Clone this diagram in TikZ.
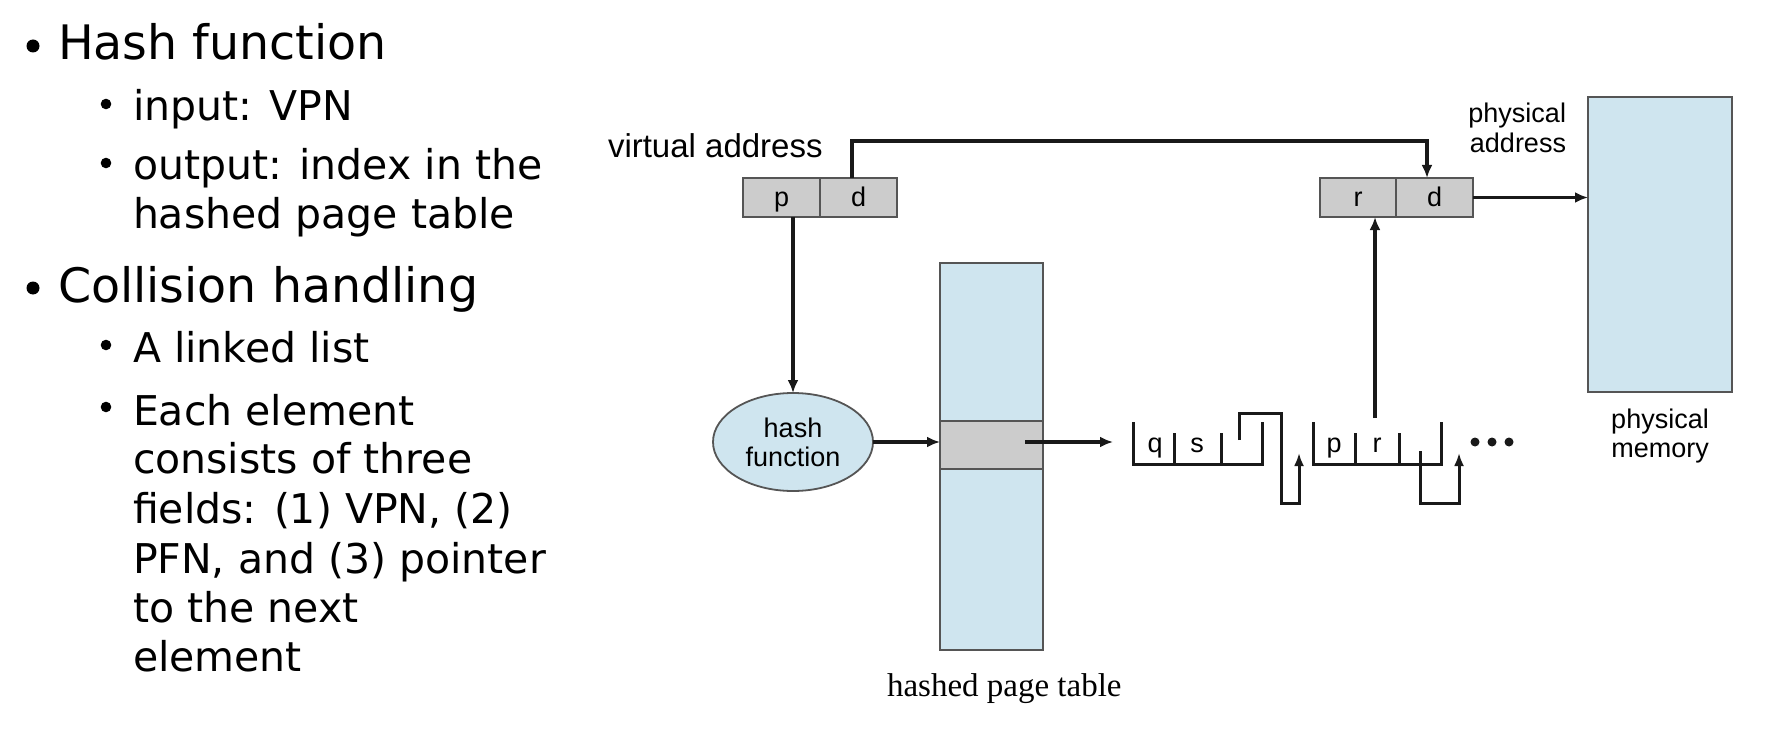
\documentclass[tikz,border=0pt]{standalone}
\usepackage{fontspec}
\setmainfont{Liberation Sans}
\newfontfamily\comicface{DejaVu Sans}
\newfontfamily\serifface{Liberation Serif}
\usetikzlibrary{arrows.meta,shapes.geometric}

\definecolor{lblue}{RGB}{207,229,239}
\definecolor{cellgray}{RGB}{204,204,204}
\definecolor{edgegray}{RGB}{85,85,85}
\definecolor{ink}{RGB}{25,25,25}

\begin{document}
\begin{tikzpicture}[x=1pt,y=-1pt,
  every node/.style={inner sep=0pt, outer sep=0pt},
  big/.style={font=\comicface\fontsize{47.5}{50}\selectfont, anchor=base west},
  sub/.style={font=\comicface\fontsize{41}{49}\selectfont, anchor=base west},
  lab/.style={font=\fontsize{27}{30}\selectfont},
  cell/.style={draw=edgegray, line width=1.8pt, fill=cellgray, minimum height=39pt, minimum width=77pt, text height=19pt, text depth=0pt, font=\fontsize{27}{30}\selectfont},
  mem/.style={draw=edgegray, line width=1.8pt, fill=lblue},
  conn/.style={draw=ink, line width=3.1pt, -{Latex[length=13pt,width=11pt]}},
  lst/.style={draw=ink, line width=3pt},
  lstarrow/.style={draw=ink, line width=3pt, -{Latex[length=13pt,width=10pt]}},
  bul1/.style={fill=black},
]
\useasboundingbox (0,0) rectangle (1766,738);

% ---------- left text ----------
\fill[bul1] (33,46) circle (6.5pt);
\node[big] (t1) at (58,60) {Hash function};
\fill[bul1] (106,104) circle (5.3pt);
\node[sub] (t2) at (133,121) {input: VPN};
\fill[bul1] (106,163) circle (5.3pt);
\node[sub] (t3) at (133,180) {output: index in the};
\node[sub] (t4) at (133,229) {hashed page table};
\fill[bul1] (33,288) circle (6.5pt);
\node[big] (t5) at (58,302) {Collision handling};
\fill[bul1] (106,345) circle (5.3pt);
\node[sub] (t6) at (133,362) {A linked list};
\fill[bul1] (106,407) circle (5.3pt);
\node[sub] (t7) at (133,425) {Each element};
\node[sub] (t8) at (133,473) {consists of three};
\node[sub] (t9) at (133,523) {fields: (1) VPN, (2)};
\node[sub] (t10) at (133,573) {PFN, and (3) pointer};
\node[sub] (t11) at (133,622) {to the next};
\node[sub] (t12) at (133,671) {element};

% ---------- diagram ----------
\node[font=\fontsize{33}{36}\selectfont, anchor=base west] (vlabel) at (608,158) {virtual address};
\node[cell] (vp) at (781.5,197.5) {p};
\node[cell] (vd) at (858.5,197.5) {d};

\node[cell, minimum width=76pt] (pr) at (1358,197.5) {r};
\node[cell] (pd) at (1434.5,197.5) {d};
\node[lab, anchor=base east] (pa1) at (1566,123) {physical};
\node[lab, anchor=base east] (pa2) at (1566,153) {address};

\node[mem, minimum width=144pt, minimum height=295pt] (memory) at (1660,244.5) {};
\node[lab, anchor=base] (pm1) at (1660,428) {physical};
\node[lab, anchor=base] (pm2) at (1660,457) {memory};

\node[mem, minimum width=103pt, minimum height=387pt] (tbl) at (991.5,456.5) {};
\node[draw=edgegray, line width=1.8pt, fill=cellgray, minimum width=103pt, minimum height=48pt] (band) at (991.5,445) {};
\node[font=\serifface\fontsize{33}{36}\selectfont, anchor=base west] (tlabel) at (887,696) {hashed page table};

\node[ellipse, draw=edgegray, line width=1.8pt, fill=lblue, minimum width=160pt, minimum height=98pt, align=center, font=\fontsize{27}{29}\selectfont] (hash) at (793,442) {hash\\function};

% connectors
\draw[conn] (vp.south -| hash.north) -- (hash.north);
\coordinate (dtop) at (852,141);
\coordinate (rtop) at (1427,141);
\draw[conn] (vd.north -| dtop) -- (dtop) -- (rtop) -- (rtop |- pd.north);
\draw[conn] (hash.east) -- (hash.east -| band.west);
\coordinate (bandout) at (1025,442);
\coordinate (listin) at (1113,442);
\draw[conn] (bandout) -- (listin);
\draw[conn] (pd.east) -- (pd.east -| memory.west);
\coordinate (rptr) at (1375,418);
\draw[conn] (rptr) -- (rptr |- pr.south);

% linked list element 1
\draw[lst] (1133,422) -- (1133,464) -- (1262,464) -- (1262,422);
\draw[lst] (1174,433) -- (1174,464);
\draw[lst] (1221,433) -- (1221,464);
\node[lab, anchor=base] (q) at (1155,452) {q};
\node[lab, anchor=base] (s) at (1197,452) {s};
\draw[lstarrow] (1239,440) -- (1239,413) -- (1281,413) -- (1281,503) -- (1299,503) -- (1299,453);

% linked list element 2
\draw[lst] (1313,422) -- (1313,464) -- (1441,464) -- (1441,422);
\draw[lst] (1355,433) -- (1355,464);
\draw[lst] (1399,433) -- (1399,464);
\node[lab, anchor=base] (p2) at (1334,452) {p};
\node[lab, anchor=base] (r2) at (1377,452) {r};
\draw[lstarrow] (1420,451) -- (1420,503) -- (1459,503) -- (1459,453);

% dots
\fill[ink] (1475,442) circle (4.5pt);
\fill[ink] (1492,442) circle (4.5pt);
\fill[ink] (1509,442) circle (4.5pt);
\end{tikzpicture}
\end{document}
